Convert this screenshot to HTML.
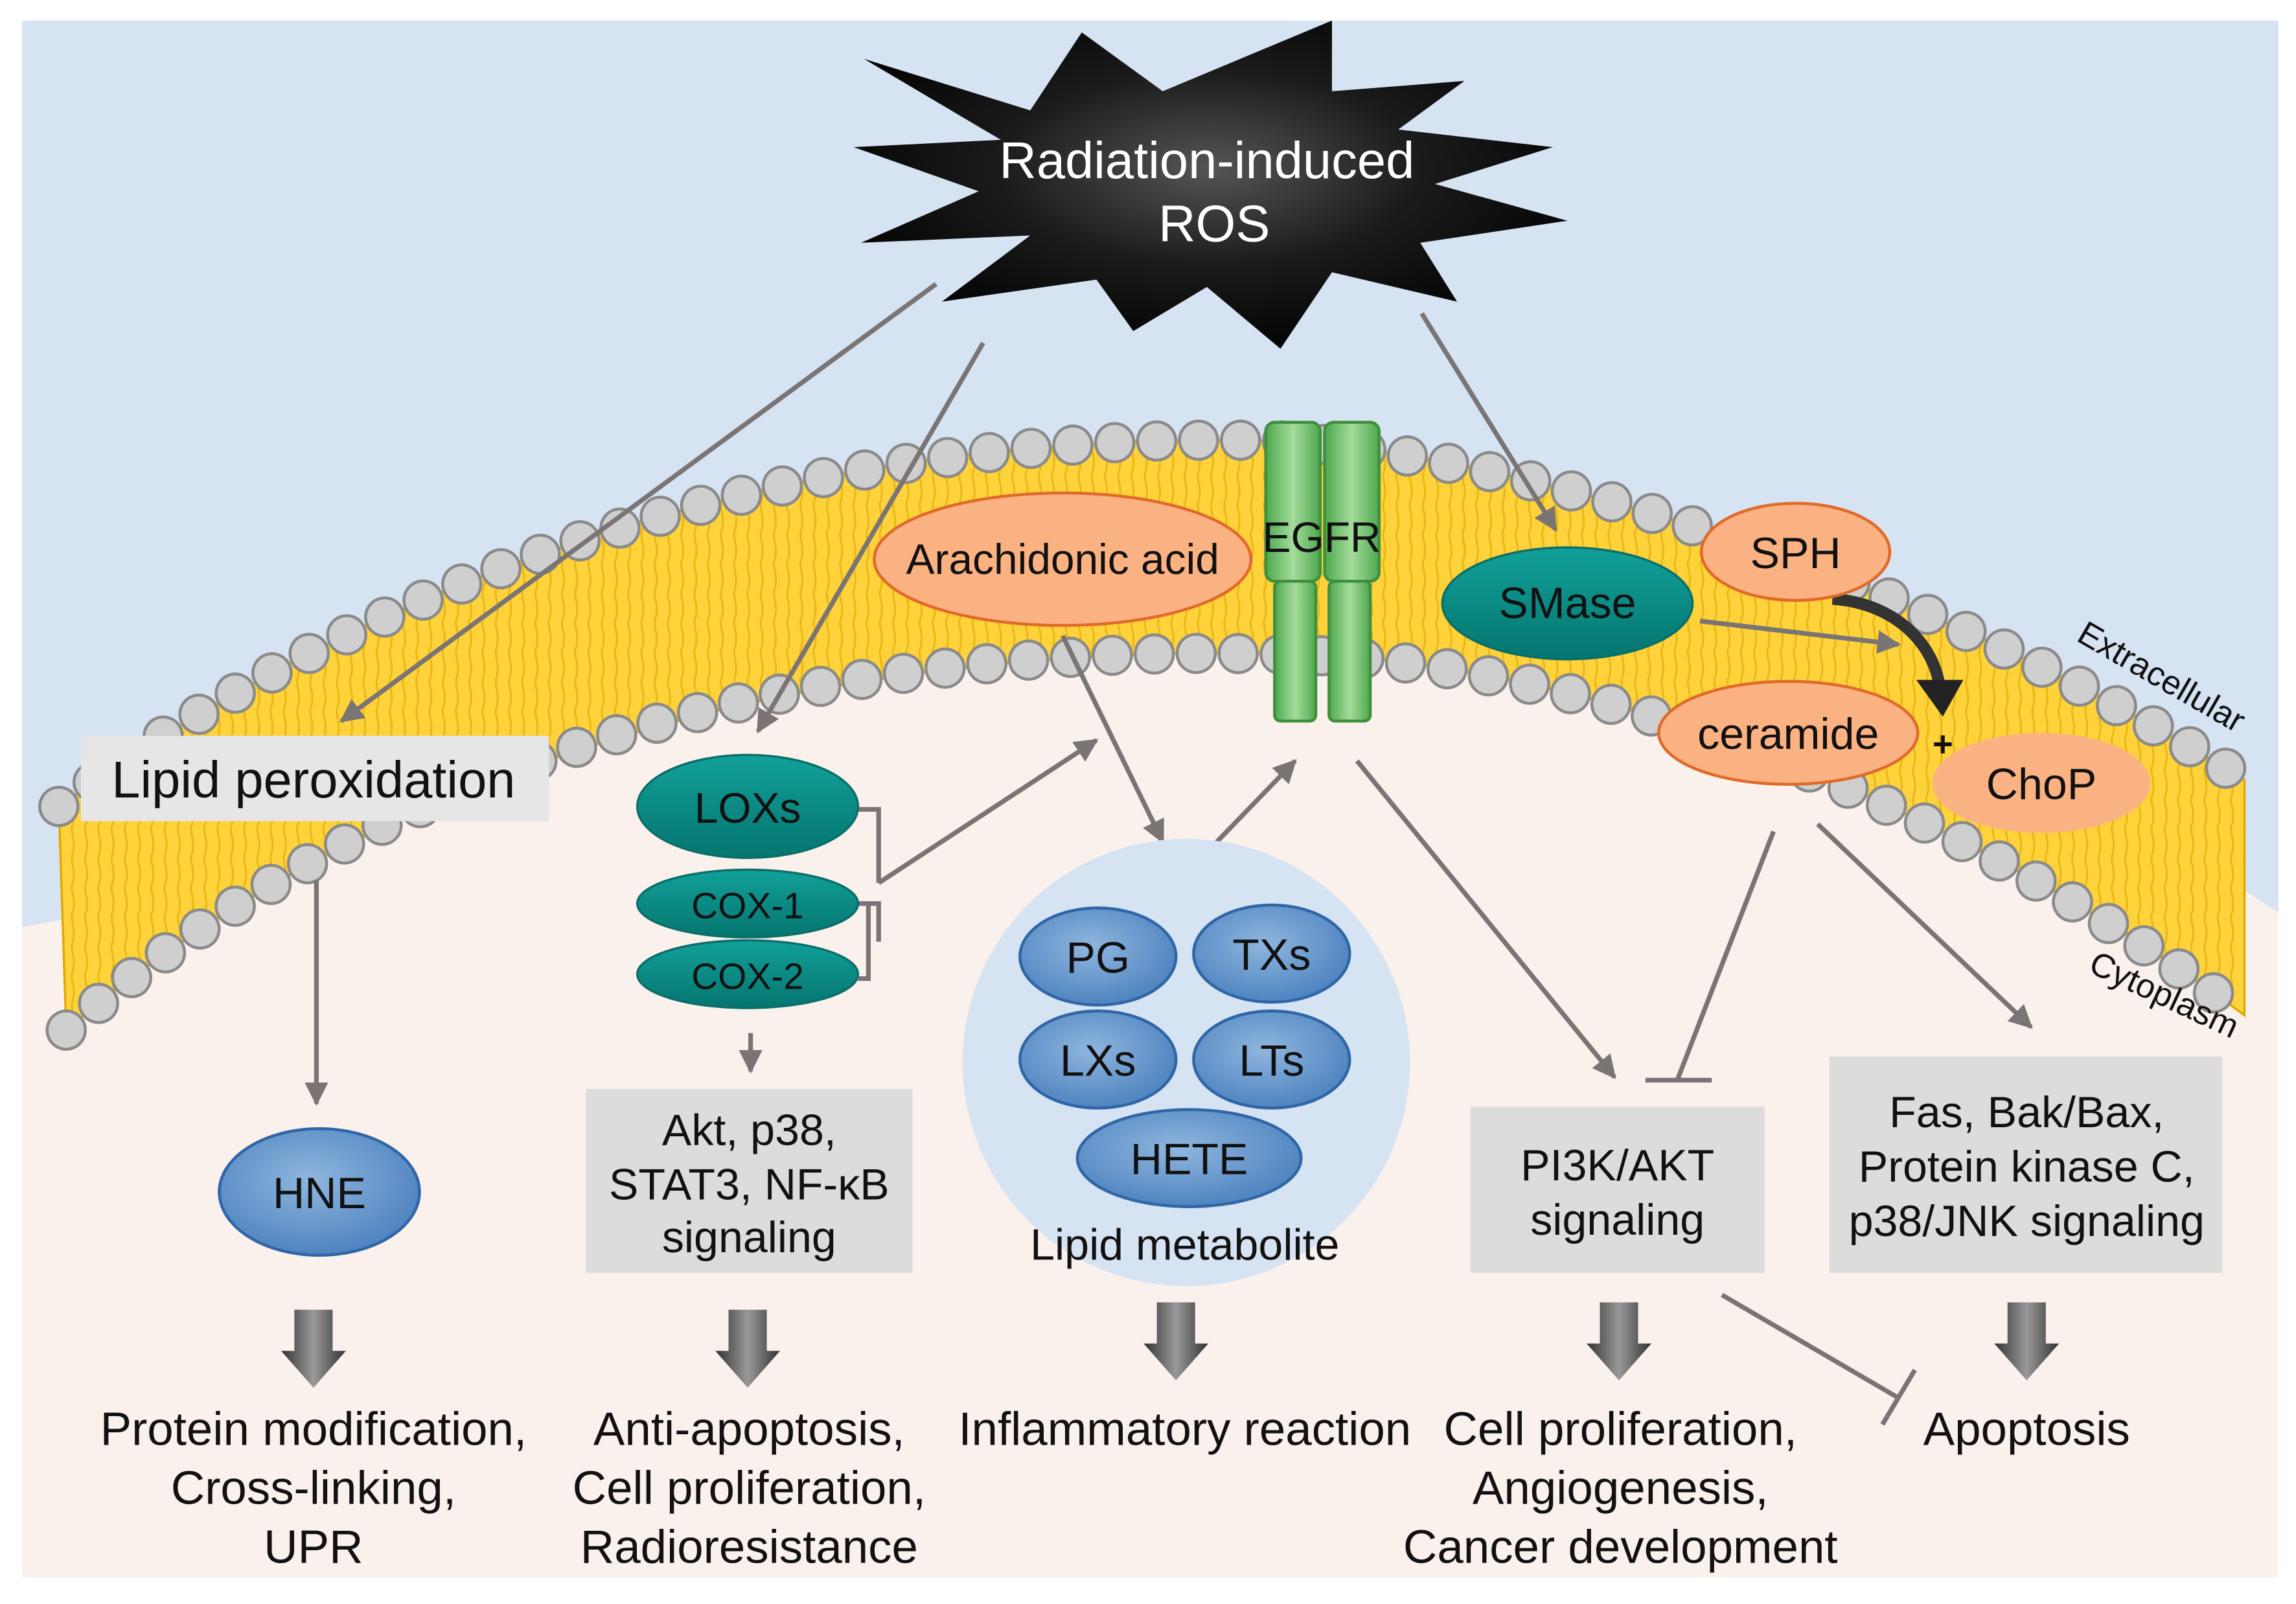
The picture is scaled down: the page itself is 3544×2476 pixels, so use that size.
<!DOCTYPE html>
<html><head><meta charset="utf-8"><style>
html,body{margin:0;padding:0;background:#fff}
svg{display:block}
text{font-family:"Liberation Sans",Arial,sans-serif;fill:#111}
</style></head><body>
<svg width="3544" height="2476" viewBox="0 0 1560 1090" preserveAspectRatio="none" xmlns="http://www.w3.org/2000/svg">
<defs>
<radialGradient id="star" cx="50%" cy="45%" r="60%"><stop offset="0" stop-color="#555"/><stop offset="0.5" stop-color="#1a1a1a"/><stop offset="1" stop-color="#000"/></radialGradient>
<linearGradient id="teal" x1="0" y1="0" x2="0" y2="1"><stop offset="0" stop-color="#12a09a"/><stop offset="1" stop-color="#05756f"/></linearGradient>
<radialGradient id="blue" cx="45%" cy="40%" r="60%"><stop offset="0" stop-color="#8fb6de"/><stop offset="1" stop-color="#4f84c0"/></radialGradient>
<linearGradient id="green" x1="0" y1="0" x2="1" y2="0"><stop offset="0" stop-color="#4ea84e"/><stop offset="0.5" stop-color="#a4dc9c"/><stop offset="1" stop-color="#4ea84e"/></linearGradient>
<linearGradient id="barr" x1="0" y1="0" x2="1" y2="0"><stop offset="0" stop-color="#333"/><stop offset="0.5" stop-color="#999"/><stop offset="1" stop-color="#333"/></linearGradient>
<marker id="ah" viewBox="0 0 10 10" refX="9" refY="5" markerWidth="5" markerHeight="5" orient="auto"><path d="M0,0 L10,5 L0,10 z" fill="#7a7474"/></marker>
<pattern id="tails" width="9" height="20" patternUnits="userSpaceOnUse"><path d="M4.5,0 C2,5 7,10 4.5,20" stroke="#e0a800" stroke-width="1.2" fill="none"/></pattern>
</defs>
<rect x="15" y="14" width="1533" height="1058" fill="#fbf1ec"/>
<path d="M15,14 H1548 V620 L1525,605 C1350,485 1100,382 880,372 C600,365 290,430 42,625 L15,630 Z" fill="#d6e3f2"/>
<path d="M40,548 C300,360 600,290 880,300 C1100,320 1350,420 1525,530 L1525,690 C1350,560 1100,450 880,445 C600,435 280,500 45,700 Z" fill="#fdd23a" stroke="#e0a800" stroke-width="1.5"/>
<path d="M40,548 C300,360 600,290 880,300 C1100,320 1350,420 1525,530 L1525,690 C1350,560 1100,450 880,445 C600,435 280,500 45,700 Z" fill="url(#tails)" opacity="0.7"/>
<g fill="none" stroke-linecap="round" stroke-dasharray="0 28.5">
<path d="M40,548 C300,360 600,290 880,300 C1100,320 1350,420 1525,530" stroke="#8a8a8a" stroke-width="28"/>
<path d="M40,548 C300,360 600,290 880,300 C1100,320 1350,420 1525,530" stroke="#cfcfcf" stroke-width="24"/>
<path d="M45,700 C280,500 580,435 880,445 C1100,450 1350,560 1525,690" stroke="#8a8a8a" stroke-width="28"/>
<path d="M45,700 C280,500 580,435 880,445 C1100,450 1350,560 1525,690" stroke="#cfcfcf" stroke-width="24"/>
</g>
<polygon points="587,40 700,75 735,22 790,62 905,14 905,62 995,55 950,88 1055,100 975,125 1065,150 965,165 990,205 905,185 870,237 820,195 770,225 745,190 640,205 700,160 585,165 665,130 580,100 680,95" fill="url(#star)"/>
<text x="820" y="121" font-size="35" text-anchor="middle" style="fill:#fff">Radiation-induced</text>
<text x="825" y="164" font-size="35" text-anchor="middle" style="fill:#fff">ROS</text>
<g stroke="#7a7474" stroke-width="3.2" fill="none" marker-end="url(#ah)">
<line x1="636" y1="193" x2="232" y2="490"/>
<line x1="668" y1="233" x2="515" y2="497"/>
<line x1="966" y1="213" x2="1057" y2="360"/>
<line x1="722" y1="432" x2="790" y2="572"/>
<line x1="822" y1="577" x2="880" y2="517"/>
<line x1="597" y1="600" x2="745" y2="503"/>
<line x1="922" y1="517" x2="1097" y2="732"/>
<line x1="1155" y1="422" x2="1290" y2="438"/>
<line x1="1235" y1="560" x2="1380" y2="698"/>
<line x1="215" y1="598" x2="215" y2="750"/>
<line x1="510" y1="702" x2="510" y2="728"/>
</g>
<g stroke="#7a7474" stroke-width="3.2" fill="none">
<line x1="1205" y1="565" x2="1140" y2="733"/>
<line x1="1118" y1="734" x2="1163" y2="734"/>
<line x1="1170" y1="880" x2="1290" y2="950"/>
<line x1="1279" y1="968" x2="1301" y2="931"/>
<path d="M583,550 H597 V600 M583,614 H597 V640 M583,665 H590 V614"/>
</g>
<path d="M1245,407 C1290,410 1315,440 1318,468" stroke="#333" stroke-width="8" fill="none"/>
<polygon points="1302,462 1334,462 1320,487" fill="#222"/>
<text x="1320" y="514" font-size="24" text-anchor="middle" font-weight="bold">+</text>
<rect x="860" y="287" width="37" height="108" rx="6" fill="url(#green)" stroke="#3f8f3f" stroke-width="2"/>
<rect x="900" y="287" width="37" height="108" rx="6" fill="url(#green)" stroke="#3f8f3f" stroke-width="2"/>
<rect x="866" y="395" width="28" height="95" rx="4" fill="url(#green)" stroke="#3f8f3f" stroke-width="2"/>
<rect x="903" y="395" width="28" height="95" rx="4" fill="url(#green)" stroke="#3f8f3f" stroke-width="2"/>
<g fill="#fbb283" stroke="#e06a2a" stroke-width="2">
<ellipse cx="722" cy="380" rx="128" ry="45"/>
<ellipse cx="1220" cy="375" rx="64" ry="33"/>
<ellipse cx="1215" cy="498" rx="88" ry="35"/>
<ellipse cx="1387" cy="532" rx="73" ry="33" stroke="#fbb283"/>
</g>
<text x="722" y="390" font-size="29" text-anchor="middle">Arachidonic acid</text>
<text x="898" y="375" font-size="29" text-anchor="middle">EGFR</text>
<text x="1220" y="386" font-size="30" text-anchor="middle">SPH</text>
<text x="1215" y="509" font-size="30" text-anchor="middle">ceramide</text>
<text x="1387" y="543" font-size="30" text-anchor="middle">ChoP</text>
<g fill="url(#teal)" stroke="#0a6e69" stroke-width="1.5">
<ellipse cx="1065" cy="410" rx="85" ry="38"/>
<ellipse cx="508" cy="548" rx="75" ry="35"/>
<ellipse cx="508" cy="614" rx="75" ry="23"/>
<ellipse cx="508" cy="662" rx="75" ry="23"/>
</g>
<text x="1065" y="420" font-size="30" text-anchor="middle">SMase</text>
<text x="508" y="559" font-size="29" text-anchor="middle">LOXs</text>
<text x="508" y="624" font-size="25" text-anchor="middle">COX-1</text>
<text x="508" y="672" font-size="25" text-anchor="middle">COX-2</text>
<circle cx="806" cy="722" r="152" fill="#d6e3f2"/>
<g fill="url(#blue)" stroke="#2f66a6" stroke-width="2">
<ellipse cx="746" cy="650" rx="53" ry="33"/>
<ellipse cx="864" cy="648" rx="53" ry="33"/>
<ellipse cx="746" cy="720" rx="53" ry="33"/>
<ellipse cx="864" cy="720" rx="53" ry="33"/>
<ellipse cx="808" cy="787" rx="76" ry="33"/>
<ellipse cx="217" cy="810" rx="68" ry="43"/>
</g>
<text x="746" y="661" font-size="30" text-anchor="middle">PG</text>
<text x="864" y="659" font-size="30" text-anchor="middle">TXs</text>
<text x="746" y="731" font-size="30" text-anchor="middle">LXs</text>
<text x="864" y="731" font-size="30" text-anchor="middle">LTs</text>
<text x="808" y="798" font-size="30" text-anchor="middle">HETE</text>
<text x="217" y="821" font-size="30" text-anchor="middle">HNE</text>
<text x="805" y="856" font-size="30" text-anchor="middle">Lipid metabolite</text>
<rect x="55" y="500" width="318" height="58" fill="#e6e6e6"/>
<text x="213" y="542" font-size="35" text-anchor="middle">Lipid peroxidation</text>
<rect x="398" y="740" width="222" height="125" fill="#dcdcdc"/>
<text x="509" y="778" font-size="30" text-anchor="middle">Akt, p38,</text>
<text x="509" y="815" font-size="30" text-anchor="middle">STAT3, NF-κB</text>
<text x="509" y="851" font-size="30" text-anchor="middle">signaling</text>
<rect x="999" y="752" width="200" height="113" fill="#dcdcdc"/>
<text x="1099" y="802" font-size="30" text-anchor="middle">PI3K/AKT</text>
<text x="1099" y="839" font-size="30" text-anchor="middle">signaling</text>
<rect x="1243" y="718" width="267" height="147" fill="#dcdcdc"/>
<text x="1377" y="766" font-size="30" text-anchor="middle">Fas, Bak/Bax,</text>
<text x="1377" y="803" font-size="30" text-anchor="middle">Protein kinase C,</text>
<text x="1377" y="840" font-size="30" text-anchor="middle">p38/JNK signaling</text>
<g fill="url(#barr)">
<path d="M200,890 h26 v28 h9 l-22,25 l-22,-25 h9 z"/>
<path d="M495,890 h26 v28 h9 l-22,25 l-22,-25 h9 z"/>
<path d="M786,885 h26 v28 h9 l-22,25 l-22,-25 h9 z"/>
<path d="M1087,885 h26 v28 h9 l-22,25 l-22,-25 h9 z"/>
<path d="M1364,885 h26 v28 h9 l-22,25 l-22,-25 h9 z"/>
</g>
<g font-size="32" text-anchor="middle">
<text x="213" y="982">Protein modification,</text>
<text x="213" y="1022">Cross-linking,</text>
<text x="213" y="1062">UPR</text>
<text x="509" y="982">Anti-apoptosis,</text>
<text x="509" y="1022">Cell proliferation,</text>
<text x="509" y="1062">Radioresistance</text>
<text x="805" y="982">Inflammatory reaction</text>
<text x="1101" y="982">Cell proliferation,</text>
<text x="1101" y="1022">Angiogenesis,</text>
<text x="1101" y="1062">Cancer development</text>
<text x="1377" y="982">Apoptosis</text>
</g>
<text x="0" y="0" font-size="23" transform="translate(1410,435) rotate(30)">Extracellular</text>
<text x="0" y="0" font-size="23" transform="translate(1418,660) rotate(25)">Cytoplasm</text>
</svg>
</body></html>
